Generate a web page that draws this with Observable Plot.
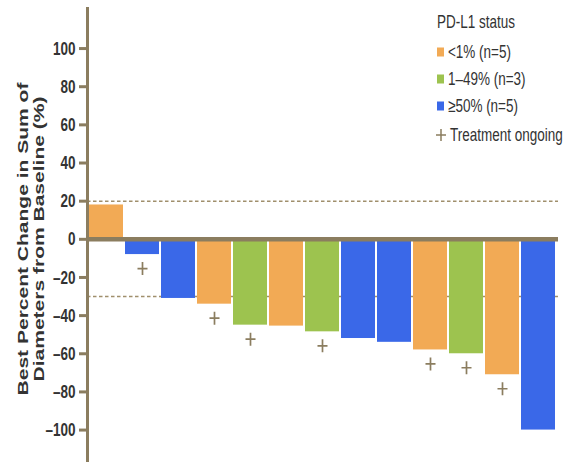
<!DOCTYPE html>
<html><head><meta charset="utf-8">
<script src="https://cdn.jsdelivr.net/npm/d3@7"></script>
<script src="https://cdn.jsdelivr.net/npm/@observablehq/plot@0.6"></script>
<style>body{margin:0;background:#fff;overflow:hidden}</style>
</head><body><div id="chart"></div>
<script>
// ---- data ----
const patients = ["P1","P2","P3","P4","P5","P6","P7","P8","P9","P10","P11","P12","P13"];
const change = [18, -8, -31, -34, -45, -45.5, -48.5, -52, -54, -58, -60, -71, -100];
const status = ["<1%","≥50%","≥50%","<1%","1–49%","<1%","1–49%","≥50%","≥50%","<1%","1–49%","<1%","≥50%"];
const ongoing = [false, true, false, true, true, false, true, false, false, true, true, true, false];
const statusLevels = ["<1%","1–49%","≥50%"];
const statusLabels = ["<1% (n=5)","1–49% (n=3)","≥50% (n=5)"];
const statusColors = ["#F2AA55","#9DC34F","#3A68E8"];
const yTicks = [-100,-80,-60,-40,-20,0,20,40,60,80,100];
const thresholds = [20, -30];
const legendTitle = "PD-L1 status";
const ongoingLabel = "Treatment ongoing";
const yTitleLines = ["Best Percent Change in Sum of", "Diameters from Baseline (%)"];

const brown = "#8B7D5F";
const font = "'Liberation Sans', Arial, sans-serif";
const data = patients.map((p, i) => ({p, v: change[i], s: status[i], on: ongoing[i]}));

const tallPlus = {
  draw(ctx, size) {
    const r = Math.sqrt(size / Math.PI);
    ctx.moveTo(-r * 0.77, 0); ctx.lineTo(r * 0.77, 0);
    ctx.moveTo(0, -r); ctx.lineTo(0, r);
  }
};

const chart = Plot.plot({
  width: 563, height: 462,
  marginLeft: 87, marginRight: 5, marginTop: 8, marginBottom: 0,
  style: {fontFamily: font, background: "#fff"},
  x: {domain: patients, range: [87, 556], paddingInner: 0.06, paddingOuter: 0, axis: null},
  y: {domain: [-117, 121], axis: null},
  color: {domain: statusLevels, range: statusColors},
  marks: [
    Plot.ruleY(thresholds, {stroke: "#A08F6C", strokeWidth: 1.5, strokeDasharray: "3.5,2.5"}),
    Plot.barY(data, {x: "p", y: "v", fill: "s"}),
    Plot.ruleY([0], {stroke: brown, strokeWidth: 4.5}),
    Plot.dot(data.filter(d => d.on), {x: "p", y: "v", dy: 14, symbol: tallPlus, r: 6.5, fill: "none", stroke: brown, strokeWidth: 1.7}),
    Plot.axisY({ticks: yTicks, tickFormat: d => d < 0 ? "–" + Math.abs(d) : String(d), tickSize: 8, tickPadding: 4, stroke: brown, strokeWidth: 3,
      fill: "#333", fontSize: 13.5, fontWeight: "bold", label: null}),
    Plot.frame({anchor: "left", stroke: brown, strokeWidth: 3})
  ]
});

const svg = d3.select(chart);

// stretch tick labels vertically (tall condensed look of the original)
function stretchY(el, k) {
  const t = el.getAttribute("transform");
  if (t) {
    el.setAttribute("transform", t + ` scale(1,${k})`);
  } else {
    const x = +el.getAttribute("x") || 0, y = +el.getAttribute("y") || 0;
    el.removeAttribute("x"); el.removeAttribute("y");
    el.setAttribute("transform", `translate(${x},${y}) scale(1,${k})`);
  }
}
svg.selectAll("g[aria-label='y-axis tick label'] text").each(function() { stretchY(this, 1.4); });

// y title
const yt = svg.append("text")
  .attr("transform", "translate(31,239) rotate(-90) scale(1.45,1)")
  .attr("text-anchor", "middle")
  .attr("font-family", font)
  .attr("font-weight", "bold")
  .attr("font-size", 14.5)
  .attr("fill", "#333");
yTitleLines.forEach((t, i) => {
  yt.append("tspan").attr("x", 0).attr("y", i === 0 ? -3 : 13).text(t);
});

// legend
const lg = svg.append("g")
  .attr("font-family", font)
  .attr("font-size", 13.5).attr("fill", "#333").attr("text-anchor", "start");
function ltext(x, y, s) {
  lg.append("text").attr("transform", `translate(${x},${y}) scale(1,1.35)`).attr("dy", "0.35em").text(s);
}
ltext(437, 22, legendTitle);
statusLabels.forEach((lab, i) => {
  const cy = 52 + i * 27;
  lg.append("rect").attr("x", 437).attr("y", cy - 4.5).attr("width", 7).attr("height", 9).attr("fill", statusColors[i]);
  ltext(448, cy, lab);
});
const py = 135;
lg.append("path").attr("d", `M436,${py}h10M441,${py-6}v12`).attr("stroke", brown).attr("stroke-width", 1.5).attr("fill", "none");
ltext(450, py, ongoingLabel);

document.getElementById("chart").appendChild(chart);
</script>
</body></html>
